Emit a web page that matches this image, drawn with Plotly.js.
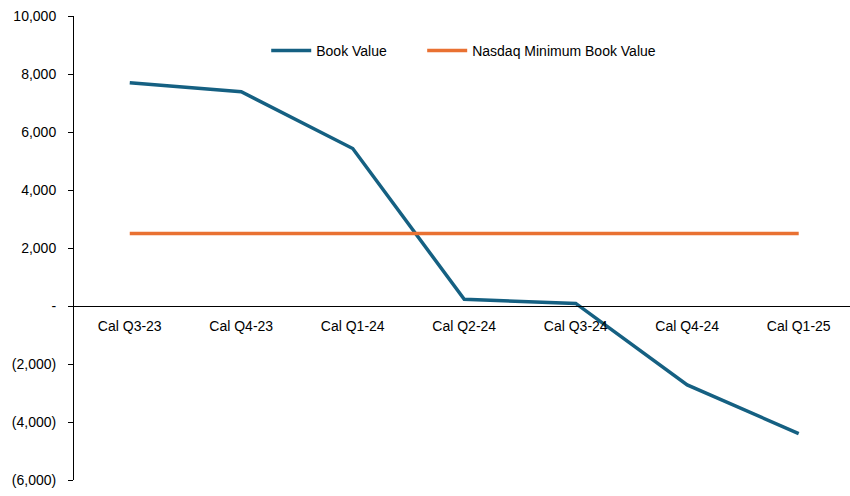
<!DOCTYPE html>
<html>
<head>
<meta charset="utf-8">
<script src="https://cdn.plot.ly/plotly-3.0.1.min.js"></script>
<style>html,body{margin:0;padding:0;background:#fff;}#chart{width:850px;height:496px;}</style>
</head>
<body>
<div id="chart"></div>
<script>
const categories = ["Cal Q3-23","Cal Q4-23","Cal Q1-24","Cal Q2-24","Cal Q3-24","Cal Q4-24","Cal Q1-25"];
const bookValue = [7700, 7390, 5430, 230, 90, -2720, -4400];
const nasdaqMin = [2500, 2500, 2500, 2500, 2500, 2500, 2500];
const yTickVals = [10000, 8000, 6000, 4000, 2000, 0, -2000, -4000, -6000];
const yTickText = ["10,000","8,000","6,000","4,000","2,000","-","(2,000)","(4,000)","(6,000)"];

const font = {family: "Liberation Sans, Arial, sans-serif", size: 14, color: "#000"};

const traces = [
  {x: categories, y: bookValue, type: "scatter", mode: "lines", name: "Book Value",
   line: {color: "#156082", width: 3.5}, legend: "legend"},
  {x: categories, y: nasdaqMin, type: "scatter", mode: "lines", name: "Nasdaq Minimum Book Value",
   line: {color: "#E97132", width: 3.5}, legend: "legend2"}
];

const legendBase = {orientation: "h", xanchor: "left", y: 0.925, yanchor: "middle",
                    font: font, bgcolor: "rgba(0,0,0,0)", itemwidth: 40};

const layout = {
  width: 850, height: 496,
  margin: {l: 74, r: 0, t: 16, b: 16},
  paper_bgcolor: "#fff", plot_bgcolor: "#fff",
  font: font,
  showlegend: true,
  legend: Object.assign({}, legendBase, {x: 0.2477}),
  legend2: Object.assign({}, legendBase, {x: 0.4487}),
  xaxis: {type: "category", range: [-0.5, 6.46], anchor: "free", position: 0.375,
          showline: true, linecolor: "#000", linewidth: 1, ticks: "", showgrid: false,
          zeroline: false, tickfont: font, ticklabelstandoff: 7, fixedrange: true},
  yaxis: {range: [-6000, 10000], tickvals: yTickVals, ticktext: yTickText,
          showline: true, linecolor: "#000", linewidth: 1, ticks: "outside", ticklen: 5,
          tickcolor: "#000", showgrid: false, zeroline: false, tickfont: font,
          ticklabelstandoff: 9, fixedrange: true}
};

Plotly.newPlot("chart", traces, layout, {displayModeBar: false, staticPlot: true});
</script>
</body>
</html>
